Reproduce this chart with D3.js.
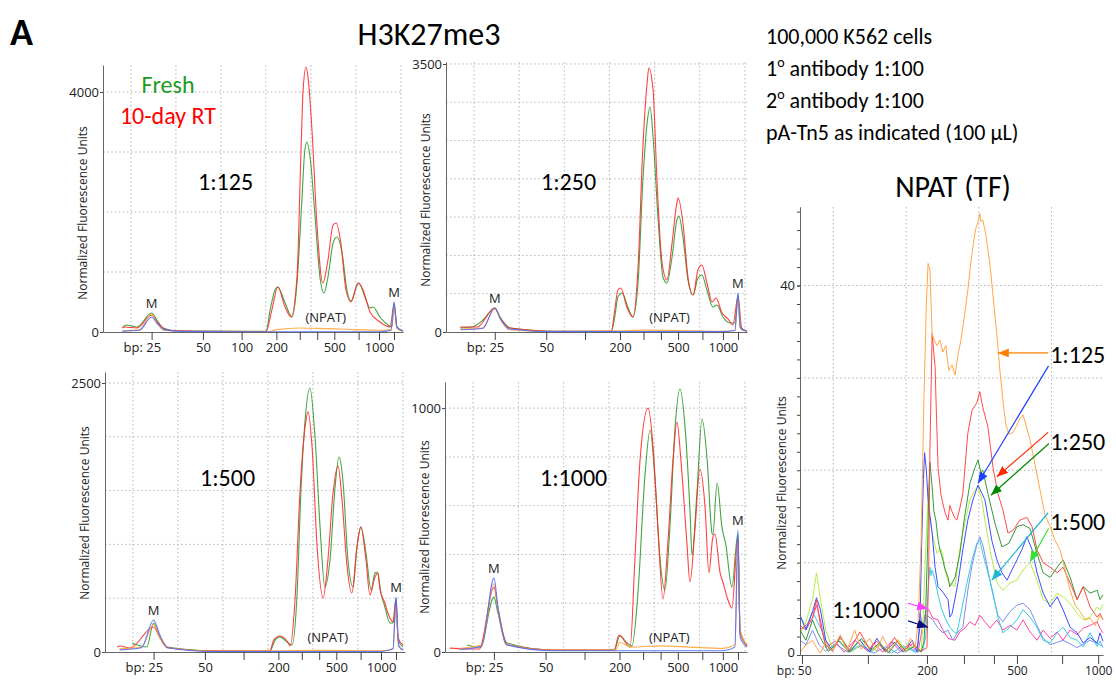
<!DOCTYPE html>
<html>
<head>
<meta charset="utf-8">
<script src="https://cdn.jsdelivr.net/npm/d3@7"></script>
<style>
  body { margin: 0; background: #fff; }
  svg { display: block; }
  .big { font-family: Carlito, Lato, "Open Sans", sans-serif; fill: #000; }
  .ax text { font-family: "Open Sans", "Noto Sans", sans-serif; font-size: 13px; fill: #222; }
  .small { font-family: "Open Sans", "Noto Sans", sans-serif; fill: #222; }
</style>
</head>
<body>
<div id="container"></div>
<script>
/* CONSTANTS AND GLOBALS */
const width = 1116, height = 681;

/* DATA */
const ladderBp = [25, 50, 100, 200, 300, 400, 500, 700, 1000, 1500];
const npatLadderBp = [50, 100, 200, 300, 400, 500, 700, 1000];
const dilutions = ["1:125", "1:250", "1:500", "1:1000"];
const yTopTicks = [4000, 3500, 2500, 1000];
const conditionLines = ["100,000 K562 cells", "1|o| antibody 1:100", "2|o| antibody 1:100", "pA-Tn5 as indicated (100 µL)"];

// H3K27me3 traces, [bp, fluorescence units]
const h125Fresh = [[19.1,83],[19.9,117],[22,83],[25,317],[27.6,200],[30.6,67],[37.4,17],[100,10],[170,10],[182,367],[196,700],[206,750],[237,483],[267,250],[288,817],[312,2200],[329,3033],[341,3167],[359,2917],[388,1917],[416,917],[440,650],[463,917],[493,1483],[522,1583],[564,1317],[604,700],[638,517],[688,783],[704,817],[793,583],[868,400],[912,417],[1030,250],[1300,117],[1430,83],[1500,483],[1667,83],[2000,17]];
const h125RT = [[18.9,67],[19.5,83],[22,67],[25,283],[28.1,150],[32.5,33],[60,10],[170,5],[187,367],[206,750],[237,417],[263,250],[288,917],[307,3033],[319,4033],[336,4417],[347,4250],[371,3317],[398,1817],[433,817],[463,1200],[493,1783],[515,1817],[554,1483],[596,700],[638,500],[695,817],[766,700],[868,333],[1030,167],[1370,83],[1500,450],[1667,67],[2000,17]];
const h125NpatA = [[19,20],[22.5,35],[25,300],[27.6,150],[31,30],[40,10],[100,5],[180,5],[200,40],[300,67],[400,60],[600,45],[1000,30],[1400,40],[1500,420],[1667,60],[2000,10]];
const h125NpatB = [[19,15],[22.5,30],[25,250],[27.6,150],[31,40],[40,10],[100,3],[1000,5],[1400,30],[1500,500],[1667,80],[2000,15]];

const h250Fresh = [[17.9,52],[20.3,65],[22.6,157],[25,313],[27.5,196],[32.5,52],[60,10],[175,8],[185,196],[194,457],[209,509],[235,313],[255,196],[277,640],[297,1946],[321,2730],[338,2938],[355,2547],[383,1502],[412,718],[435,640],[465,979],[493,1463],[507,1515],[540,1241],[581,679],[623,483],[663,705],[695,744],[766,548],[854,326],[912,353],[1000,196],[1240,118],[1400,118],[1500,483],[1617,65],[2000,13]];
const h250RT = [[17.9,65],[21.4,65],[25,313],[27.5,190],[32.5,52],[60,10],[175,8],[185,287],[194,548],[204,574],[229,326],[255,196],[277,849],[297,2377],[321,3252],[331,3448],[355,3160],[378,1946],[407,901],[435,679],[465,1162],[493,1685],[500,1750],[540,1424],[581,718],[623,483],[663,810],[695,875],[766,640],[841,392],[899,444],[987,248],[1170,170],[1330,91],[1500,457],[1717,39],[2000,10]];
const h250NpatA = [[18,40],[22.5,50],[25,300],[28,150],[32,30],[60,5],[200,15],[300,25],[500,20],[1000,10],[1400,20],[1500,420],[1650,40],[2000,10]];
const h250NpatB = [[18,30],[22.5,45],[25,313],[28,160],[32,40],[60,5],[1000,5],[1400,20],[1500,509],[1650,50],[2000,10]];

const h500Fresh = [[20.6,84],[21.6,65],[23.6,46],[25,270],[27.2,177],[31.6,46],[60,10],[175,8],[191,112],[206,139],[237,93],[258,65],[280,548],[296,1478],[319,2156],[347,2454],[376,1998],[405,1162],[433,604],[463,855],[493,1533],[522,1812],[554,1599],[596,855],[638,604],[670,976],[704,1162],[779,920],[854,576],[912,734],[943,743],[1000,548],[1130,418],[1300,270],[1400,270],[1500,502],[1617,112],[1883,46]];
const h500RT = [[17.5,46],[18.1,56],[20.1,37],[25,232],[28.1,130],[31.6,40],[60,10],[175,8],[187,112],[206,149],[237,100],[250,56],[271,483],[292,1478],[319,2091],[336,2231],[359,1905],[388,976],[423,502],[451,855],[481,1478],[515,1729],[547,1413],[589,790],[628,548],[670,976],[704,1162],[779,855],[837,530],[912,697],[956,734],[987,576],[1130,455],[1230,362],[1400,279],[1500,483],[1617,130],[1883,65]];
const h500NpatA = [[18,30],[22.5,45],[25,255],[28,140],[32,40],[60,8],[200,12],[400,15],[1000,10],[1400,30],[1500,430],[1650,50],[1900,20]];
const h500NpatB = [[18,20],[22.5,40],[25,297],[28,160],[32,40],[60,5],[1000,5],[1400,30],[1500,511],[1650,60],[1900,15]];

const h1000Fresh = [[19.5,29],[22.2,20],[25,225],[26.9,160],[31.3,37],[60,8],[185,8],[201,66],[232,37],[253,25],[278,242],[310,717],[340,910],[367,717],[397,377],[425,254],[454,512],[484,922],[517,1078],[559,922],[599,582],[616,398],[656,652],[698,955],[771,787],[841,488],[854,480],[916,693],[987,512],[1100,439],[1300,266],[1500,488],[1617,78],[2000,29]];
const h1000RT = [[16,16],[22,12],[25,266],[26.9,184],[31.3,30],[60,8],[185,8],[198,70],[245,20],[265,377],[287,787],[328,1000],[357,840],[384,512],[414,217],[442,447],[472,787],[495,943],[525,787],[574,447],[599,287],[641,512],[680,750],[740,594],[797,324],[854,471],[885,484],[960,324],[1010,283],[1170,213],[1300,180],[1500,471],[1617,90],[2000,25]];
const h1000NpatA = [[18,15],[22.5,30],[25,280],[27,170],[31,30],[60,8],[190,8],[200,40],[250,20],[400,25],[600,20],[1000,15],[1400,30],[1500,420],[1620,90],[2000,30]];
const h1000NpatB = [[18,10],[22.5,25],[25,303],[27,180],[31,30],[60,5],[1000,5],[1400,20],[1500,500],[1620,60],[2000,20]];

// NPAT traces, [bp, fluorescence units]
const npat125a = [[48,0.3],[53,1.1],[58,1.6],[61,0.8],[64,0.2],[68,1.4],[73,0.4],[79,2.2],[84,0.5],[90,2.7],[95,0.6],[103,1.8],[115,0.4],[125,2.0],[137,0.5],[150,1.6],[162,0.3],[172,1.8],[180,0.8],[185,3.5],[190,12],[195,28],[199,38],[203,42.4],[208,41.7],[214,34.8],[219,34.1],[227,33.5],[235,34.1],[243,32.8],[251,33.5],[259,30.8],[268,31.4],[276,30.3],[284,32.5],[292,34.1],[300,36.3],[313,39.5],[323,42.5],[333,44.9],[340,46.2],[347,46.9],[353,47.8],[357,46.9],[363,47.1],[373,45.5],[387,42.2],[400,37.9],[413,34.6],[426,30.8],[439,27.6],[452,24.9],[465,23.9],[483,24.1],[500,24.9],[513,25.6],[527,26],[540,24.9],[558,23.3],[580,20.6],[602,17.9],[624,15.2],[647,13.9],[669,12.4],[691,11.4],[725,9.2],[767,7],[808,5.4],[850,4.7],[892,3.8],[933,4.0],[975,3.2],[1017,4.3],[1045,3.8]];
const npat125b = [[48,4.3],[53,2.7],[58,4.7],[61,6.2],[64,4.9],[68,1.6],[73,0.5],[79,2.0],[86,0.4],[94,1.6],[103,0.3],[115,1.8],[130,0.4],[145,1.4],[160,0.3],[175,1.6],[183,0.4],[188,3],[191,12],[194,19],[196,21.9],[199,20],[203,16.8],[214,13.2],[222,9.5],[230,7.4],[243,6.8],[257,6],[262,4.1],[268,4.5],[284,7.8],[297,11.4],[313,14.6],[330,16.8],[347,18.4],[360,17.5],[370,16.8],[380,14.9],[393,12.4],[413,10.3],[435,8.9],[457,8.1],[478,9.2],[500,10.3],[522,11.4],[544,12.8],[567,11.4],[589,8.9],[616,6.7],[647,5.2],[678,6.3],[708,4.9],[767,3],[825,2.4],[875,1.3],[933,1.9],[992,1.3],[1017,2.4],[1045,1.5]];
const npat250a = [[48,2.7],[53,3.2],[58,4],[61,6],[64,3.2],[68,1.1],[73,0.4],[79,1.9],[86,0.5],[94,2.5],[103,0.6],[115,1.5],[130,0.3],[145,1.9],[160,0.5],[175,1.2],[190,0.4],[200,0.8],[205,10],[208,22],[214,34.8],[218,33.0],[222,31.2],[226,25.5],[230,20.3],[238,17.3],[249,15.4],[257,14.6],[262,16.2],[268,15.5],[276,14.8],[281,14.6],[289,15.9],[297,17.5],[313,24],[327,26.5],[343,27.3],[353,28.5],[363,26.8],[380,24.7],[397,20.3],[417,17.5],[439,15.7],[461,13.2],[483,13.5],[513,14.6],[544,14.9],[567,13.9],[589,11.4],[616,10],[647,9.5],[678,8.9],[708,9.5],[767,7.8],[825,6],[875,7.4],[933,5.2],[992,4.1],[1017,4.5],[1045,3.8]];
const npat250b = [[48,2.7],[53,1.6],[58,3.8],[62,2.4],[65,1.6],[70,0.4],[78,1.5],[86,0.3],[95,1.8],[105,0.5],[120,1.3],[135,0.2],[150,1.5],[165,0.4],[180,1.0],[190,0.3],[195,1.5],[198,5],[202,12],[205,18],[208,20.9],[211,19.5],[214,18.2],[219,15.5],[224,14.6],[230,12.5],[235,11.4],[243,10.3],[248,9.4],[257,8.4],[262,7.4],[268,7.8],[276,8.4],[289,11],[302,14.9],[320,18.6],[337,20.3],[347,21.1],[357,19.7],[363,20],[380,17.5],[404,14.3],[435,11.7],[465,12.1],[500,13.9],[527,14.1],[558,13.7],[589,11],[616,8.9],[647,8.4],[678,9.5],[708,10.3],[767,8.4],[825,6],[875,7.4],[933,6.7],[992,7],[1017,6],[1045,6.5]];
const npat500a = [[48,4.3],[53,2.9],[58,4.7],[62,3.5],[65,2.7],[71,0.5],[78,1.6],[86,0.4],[95,1.2],[105,0.3],[120,1.1],[140,0.2],[160,1.0],[180,0.3],[193,0.5],[198,2],[203,7],[208,9.5],[211,8.6],[214,9.2],[222,8.1],[230,6.5],[238,5.2],[249,4],[262,3],[276,2.4],[281,2.4],[294,4.9],[310,7.8],[327,10.3],[343,12.1],[353,12.4],[363,11],[380,8.9],[397,6.7],[417,4.1],[439,2.4],[470,3],[500,3.8],[527,4.9],[558,4.1],[589,3],[616,1.6],[647,1.3],[678,2.4],[708,3],[767,1.9],[825,1.6],[875,0.9],[933,2.4],[992,0.9],[1017,1.5],[1045,0.8]];
const npat500b = [[48,2.2],[53,3.6],[58,6],[61,8.9],[64,6],[68,2.7],[73,0.8],[80,1.8],[88,0.3],[97,1.5],[108,0.4],[120,1.2],[135,0.3],[150,1.7],[165,0.5],[180,1.1],[190,0.4],[193,3],[197,10],[200,14.5],[203,16.6],[207,15],[214,13.2],[227,11],[238,11.5],[243,10.8],[249,9.2],[257,8],[262,7.8],[276,7.4],[289,11.4],[303,14.3],[320,16.8],[337,17.9],[347,18.2],[360,16.8],[370,14.6],[387,11.4],[413,7.8],[439,7],[470,7.8],[500,8.1],[527,9.2],[558,10],[589,8.1],[616,6],[647,5.6],[678,6.7],[708,6.3],[767,5.6],[825,4.5],[875,3.8],[933,4.1],[992,5.2],[1017,4.9],[1045,5.5]];
const npat1000a = [[48,3.2],[53,2.7],[58,4],[61,5.4],[64,3.8],[68,0.8],[75,1.5],[82,0.3],[90,1.6],[100,0.4],[110,1.3],[125,0.3],[140,1.5],[155,0.4],[170,1.2],[185,0.3],[192,2.9],[198,4.7],[205,4.9],[216,4],[230,3.8],[243,2.7],[257,1.8],[276,1.6],[289,2.5],[303,2.9],[320,3.6],[337,3.2],[353,4.3],[370,3.6],[387,2.9],[413,3.8],[439,2.7],[470,3.2],[500,2.7],[527,3.8],[558,2.5],[589,1.6],[616,2.7],[647,1.8],[678,2.5],[708,1.6],[767,2.7],[825,2.2],[875,2.9],[933,3.2],[992,3.6],[1017,2.9],[1045,2.4]];
const npat1000b = [[48,1.6],[53,1.1],[58,2.7],[63,1.1],[68,0.4],[75,1.2],[85,0.3],[95,1.0],[110,0.2],[130,0.9],[150,0.2],[170,0.8],[184,0.3],[188,4.5],[193,3.2],[200,4.3],[216,3.8],[230,2.9],[243,2.4],[257,2.7],[270,1.6],[284,2.5],[297,3],[313,7],[327,9.7],[343,11.9],[353,12.8],[363,11.9],[380,9.2],[397,6.5],[417,4.3],[439,3.6],[470,4.7],[500,5.4],[527,5.6],[558,4.9],[589,3.2],[616,1.8],[647,1.1],[708,1.6],[825,0.8],[933,1.6],[1017,1.1],[1045,0.9]];

/* LAYOUT */
// where each ladder size sits along the run, as a share of the plot width
const sizeStops = [15, ...ladderBp, 2000];
const sizeShare = [0, 0.162, 0.333, 0.462, 0.578, 0.656, 0.714, 0.771, 0.852, 0.92, 0.97, 1];
const npatStops = [48, ...npatLadderBp, 1045];
const npatShare = [0, 0.0066, 0.224, 0.419, 0.541, 0.640, 0.716, 0.865, 0.984, 1];
const vGridShare = [0.093, 0.243, 0.393, 0.543, 0.693, 0.843, 0.993];
const npatGridShare = [0.11, 0.35, 0.59, 0.83];

const colors = { fresh: "#2f9a2f", rt: "#ff2b2b", npatA: "#ffa43c", npatB: "#4d6bff" };

const panels = [
  { left: 103, right: 403, top: 65, bottom: 332, yMax: 4450, step: 1000, titleY: 213, tagY: 190,
    fresh: h125Fresh, rt: h125RT, a: h125NpatA, b: h125NpatB, labels: [25, 50, 100, 200, 500, 1000] },
  { left: 446, right: 747, top: 62, bottom: 332, yMax: 3526, step: 500, titleY: 200, tagY: 190,
    fresh: h250Fresh, rt: h250RT, a: h250NpatA, b: h250NpatB, labels: [25, 50, 200, 500, 1000] },
  { left: 105, right: 405, top: 372, bottom: 652, yMax: 2602, step: 500, titleY: 513, tagY: 486,
    fresh: h500Fresh, rt: h500RT, a: h500NpatA, b: h500NpatB, labels: [25, 50, 200, 500, 1000] },
  { left: 445, right: 747, top: 382, bottom: 652, yMax: 1107, step: 200, titleY: 527, tagY: 486,
    fresh: h1000Fresh, rt: h1000RT, a: h1000NpatA, b: h1000NpatB, labels: [25, 50, 200, 500, 1000] }
];

/* HTML ELEMENTS */
const svg = d3.select("#container")
  .append("svg")
  .attr("width", width)
  .attr("height", height);

const defs = svg.append("defs");

function dotted(sel) {
  sel.attr("stroke", "#b5b5b5").attr("stroke-width", 1).attr("stroke-dasharray", "1.5,2.5");
}

function styleAxis(g) {
  g.attr("class", "ax");
  g.select(".domain").attr("stroke", "#666");
  g.selectAll(".tick line").attr("stroke", "#444");
}

panels.forEach((p, i) => {
  const x = d3.scaleLinear()
    .domain(sizeStops)
    .range(sizeShare.map(f => p.left + f * (p.right - p.left)));
  const y = d3.scaleLinear().domain([0, p.yMax]).range([p.bottom, p.top]);
  const share = d3.scaleLinear().domain([0, 1]).range([p.left, p.right]);
  const g = svg.append("g");

  g.selectAll(".hg").data(d3.range(p.step, p.yMax, p.step)).join("line")
    .attr("x1", p.left).attr("x2", p.right)
    .attr("y1", d => y(d)).attr("y2", d => y(d))
    .call(dotted);
  g.selectAll(".vg").data(vGridShare).join("line")
    .attr("x1", d => share(d)).attr("x2", d => share(d))
    .attr("y1", p.top).attr("y2", p.bottom)
    .call(dotted);

  const line = d3.line().x(d => x(d[0])).y(d => y(d[1])).curve(d3.curveMonotoneX);
  [[p.fresh, colors.fresh], [p.rt, colors.rt], [p.a, colors.npatA], [p.b, colors.npatB]].forEach(([data, c]) => {
    g.append("path").datum(data)
      .attr("d", line).attr("fill", "none")
      .attr("stroke", c).attr("stroke-width", 1.1).attr("stroke-opacity", 0.9);
  });

  const xAxis = d3.axisBottom(x)
    .tickValues(ladderBp)
    .tickSize(8)
    .tickSizeOuter(0)
    .tickFormat(d => p.labels.includes(d) ? d : "");
  g.append("g")
    .attr("transform", `translate(0,${p.bottom})`)
    .call(xAxis)
    .call(styleAxis)
    .call(a => a.selectAll(".tick text").filter(d => d === 25)
      .text("bp: 25").attr("text-anchor", "end").attr("x", 9));

  const yAxis = d3.axisLeft(y)
    .tickValues([0, yTopTicks[i]])
    .tickFormat(d3.format("d"))
    .tickSize(3)
    .tickSizeOuter(0)
    .tickPadding(1);
  g.append("g")
    .attr("transform", `translate(${p.left},0)`)
    .call(yAxis)
    .call(styleAxis);

  g.append("text").attr("class", "small")
    .attr("transform", `translate(${p.left - 16},${p.titleY}) rotate(-90)`)
    .attr("text-anchor", "middle").attr("font-size", 12)
    .text("Normalized Fluorescence Units");

  // marker labels above the ladder peaks
  [25, 1500].forEach(bp => {
    const top = d3.max([p.fresh, p.rt, p.a, p.b], s => d3.max(s.filter(d => d[0] === bp), d => d[1]));
    g.append("text").attr("class", "small")
      .attr("x", x(bp)).attr("y", y(top) - 5)
      .attr("text-anchor", "middle").attr("font-size", 13)
      .text("M");
  });
  g.append("text").attr("class", "small")
    .attr("x", x(450)).attr("y", p.bottom - 10)
    .attr("text-anchor", "middle").attr("font-size", 13)
    .text("(NPAT)");

  g.append("text").attr("class", "big")
    .attr("x", p.left + 95).attr("y", p.tagY)
    .attr("font-size", 24)
    .text(dilutions[i]);
});

// legend and titles
svg.append("text").attr("class", "big")
  .attr("x", 10).attr("y", 45)
  .attr("font-size", 38).attr("font-weight", "bold")
  .text("A");
svg.append("text").attr("class", "big")
  .attr("x", 429).attr("y", 45)
  .attr("text-anchor", "middle").attr("font-size", 32)
  .text("H3K27me3");
svg.append("text").attr("class", "big")
  .attr("x", 168).attr("y", 93).attr("text-anchor", "middle")
  .attr("font-size", 24).style("fill", "#1f9a1f")
  .text("Fresh");
svg.append("text").attr("class", "big")
  .attr("x", 168).attr("y", 124).attr("text-anchor", "middle")
  .attr("font-size", 24).style("fill", "#ff0000")
  .text("10-day RT");

conditionLines.forEach((txt, k) => {
  const t = svg.append("text").attr("class", "big")
    .attr("x", 766).attr("y", 44 + k * 32).attr("font-size", 22);
  const parts = txt.split("|");
  if (parts.length === 1) {
    t.text(txt);
  } else {
    t.append("tspan").text(parts[0]);
    t.append("tspan").attr("font-size", 14).attr("dy", -9).text(parts[1]);
    t.append("tspan").attr("dy", 9).text(parts[2]);
  }
});

svg.append("text").attr("class", "big")
  .attr("x", 953).attr("y", 197)
  .attr("text-anchor", "middle").attr("font-size", 30)
  .text("NPAT (TF)");

/* NPAT PANEL */
const np = { left: 800, right: 1103, top: 207, bottom: 655, yMax: 48.5, step: 10 };
const nx = d3.scaleLinear()
  .domain(npatStops)
  .range(npatShare.map(f => np.left + f * (np.right - np.left)));
const ny = d3.scaleLinear().domain([0, np.yMax]).range([np.bottom, np.top]);
const nShare = d3.scaleLinear().domain([0, 1]).range([np.left, np.right]);
const ng = svg.append("g");

ng.selectAll(".hg").data(d3.range(np.step, np.yMax, np.step)).join("line")
  .attr("x1", np.left).attr("x2", np.right)
  .attr("y1", d => ny(d)).attr("y2", d => ny(d))
  .call(dotted);
ng.selectAll(".vg").data(npatGridShare).join("line")
  .attr("x1", d => nShare(d)).attr("x2", d => nShare(d))
  .attr("y1", np.top).attr("y2", np.bottom)
  .call(dotted);

const npatSeries = [
  { data: npat1000a, color: "#ff45a8" },
  { data: npat1000b, color: "#7f8ff2" },
  { data: npat500a, color: "#35cfe2" },
  { data: npat500b, color: "#b6ee45" },
  { data: npat125b, color: "#3d4cff" },
  { data: npat250b, color: "#35983a" },
  { data: npat250a, color: "#ff4a4a" },
  { data: npat125a, color: "#ffa845" }
];
const nLine = d3.line().x(d => nx(d[0])).y(d => ny(d[1]));
ng.selectAll(".trace").data(npatSeries).join("path")
  .attr("d", d => nLine(d.data))
  .attr("fill", "none")
  .attr("stroke", d => d.color)
  .attr("stroke-width", 1)
  .attr("stroke-linejoin", "round");

ng.append("g")
  .attr("transform", `translate(0,${np.bottom})`)
  .call(d3.axisBottom(nx).tickValues(npatLadderBp).tickSize(9).tickPadding(2).tickSizeOuter(0)
    .tickFormat(d => [50, 200, 500, 1000].includes(d) ? d : ""))
  .call(styleAxis)
  .call(a => a.selectAll(".tick text").style("font-size", "12px"))
  .call(a => a.selectAll(".tick text").filter(d => d === 50)
    .text("bp: 50").attr("text-anchor", "end").attr("x", 9));

ng.append("g")
  .attr("transform", `translate(${np.left},0)`)
  .call(d3.axisLeft(ny).tickValues(d3.range(0, np.yMax, 2)).tickSize(3).tickSizeOuter(0).tickFormat(""))
  .call(styleAxis);
ng.append("g")
  .attr("transform", `translate(${np.left},0)`)
  .call(d3.axisLeft(ny).tickValues([0, 40]).tickSize(3).tickSizeOuter(0).tickPadding(2))
  .call(styleAxis)
  .call(a => a.selectAll(".tick text").filter(d => d === 0).attr("dy", "0.1em"));

ng.append("text").attr("class", "small")
  .attr("transform", `translate(786,483) rotate(-90)`)
  .attr("text-anchor", "middle").attr("font-size", 12)
  .text("Normalized Fluorescence Units");

// dilution call-outs, positions in the panel's own units
const npatNotes = [
  { text: "1:125", at: [647, 31.6], arrows: [
    { from: [638, 32.7], to: [417, 32.7], color: "#ff8000" },
    { from: [640, 31.3], to: [347, 18.6], color: "#1f3fff" }] },
  { text: "1:250", at: [647, 22.2], arrows: [
    { from: [638, 24.1], to: [413, 19.3], color: "#ff2a00" },
    { from: [642, 22.9], to: [390, 17.3], color: "#008a00" }] },
  { text: "1:500", at: [647, 13.5], arrows: [
    { from: [638, 15.4], to: [393, 8.1], color: "#1db6d6" },
    { from: [640, 13.7], to: [558, 10.1], color: "#33e033" }] },
  { text: "1:1000", at: [73, 4.0], arrows: [
    { from: [168, 5.6], to: [203, 5.0], color: "#ff40ff" },
    { from: [168, 3.7], to: [203, 3.0], color: "#0a0a80" }] }
];

npatNotes.forEach((n, k) => {
  ng.append("text").attr("class", "big")
    .attr("x", nx(n.at[0])).attr("y", ny(n.at[1]))
    .attr("font-size", 24)
    .text(n.text);
  n.arrows.forEach((a, j) => {
    const id = `ah${k}${j}`;
    defs.append("marker")
      .attr("id", id)
      .attr("markerUnits", "userSpaceOnUse")
      .attr("markerWidth", 11).attr("markerHeight", 9)
      .attr("refX", 11).attr("refY", 4.5)
      .attr("orient", "auto")
      .append("path").attr("d", "M0,0 L11,4.5 L0,9 Z").attr("fill", a.color);
    ng.append("line")
      .attr("x1", nx(a.from[0])).attr("y1", ny(a.from[1]))
      .attr("x2", nx(a.to[0])).attr("y2", ny(a.to[1]))
      .attr("stroke", a.color).attr("stroke-width", 1.2)
      .attr("marker-end", `url(#${id})`);
  });
});
</script>
</body>
</html>
